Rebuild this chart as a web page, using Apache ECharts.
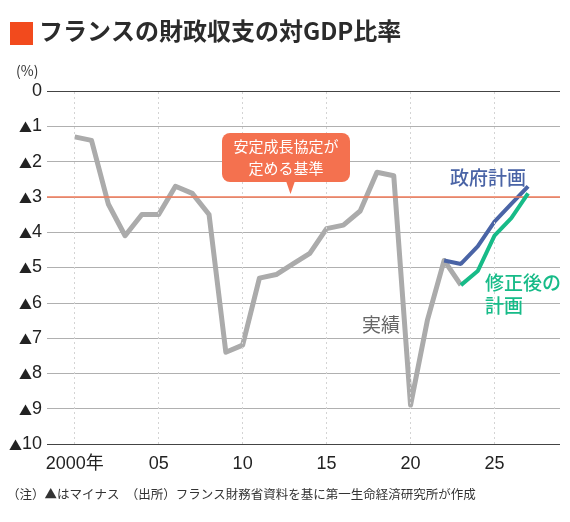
<!DOCTYPE html>
<html>
<head>
<meta charset="utf-8">
<script src="https://cdn.jsdelivr.net/npm/echarts@6/dist/echarts.min.js"></script>
<style>
  html, body { margin: 0; padding: 0; background: #fff; }
  #chart { width: 570px; height: 522px; }
</style>
</head>
<body>
<div id="chart"></div>
<script>
    // 実績 2000-2023
    var actualYears = [2000, 2001, 2002, 2003, 2004, 2005, 2006, 2007, 2008, 2009, 2010, 2011,
        2012, 2013, 2014, 2015, 2016, 2017, 2018, 2019, 2020, 2021, 2022, 2023];
    var actualValues = [-1.3, -1.4, -3.2, -4.1, -3.5, -3.5, -2.7, -2.9, -3.5, -7.4, -7.2, -5.3,
        -5.2, -4.9, -4.6, -3.9, -3.8, -3.4, -2.3, -2.4, -8.9, -6.5, -4.8, -5.5];
    // 政府計画
    var planYears = [2022, 2023, 2024, 2025, 2026, 2027];
    var planValues = [-4.8, -4.9, -4.4, -3.7, -3.2, -2.7];
    // 修正後の計画
    var revisedYears = [2023, 2024, 2025, 2026, 2027];
    var revisedValues = [-5.5, -5.1, -4.1, -3.6, -2.9];

    var xTicks = [2000, 2005, 2010, 2015, 2020, 2025];
    var xTickLabels = ['2000年', '05', '10', '15', '20', '25'];
    var sgpLimit = -3;

    var FONT = '"Noto Sans CJK JP", "Noto Sans", sans-serif';
    var NUM_FONT = '"Liberation Sans", "Noto Sans CJK JP", sans-serif';

    function pairs(xs, ys) {
        return xs.map(function (x, i) { return [x, ys[i]]; });
    }

    var gridColors = [];
    for (var i = 0; i <= 10; i++) {
        gridColors.push(i === 0 || i === 10 ? '#444' : '#b0b0b0');
    }

    var myChart = echarts.init(document.getElementById('chart'));
    var option = {
        animation: false,
        textStyle: { fontFamily: FONT },
        grid: { left: 47, right: 10, top: 91, bottom: 78 },
        xAxis: {
            type: 'value',
            min: 1998.35,
            max: 2028.9,
            axisLine: { show: false },
            axisTick: { show: false },
            splitLine: { show: false },
            axisLabel: {
                customValues: xTicks,
                color: '#222',
                fontSize: 18,
                margin: 11,
                fontFamily: NUM_FONT,
                formatter: function (v) {
                    var k = xTicks.indexOf(Math.round(v));
                    return k >= 0 ? xTickLabels[k] : '';
                }
            }
        },
        yAxis: {
            type: 'value',
            min: -10,
            max: 0,
            interval: 1,
            axisLine: { show: false },
            axisTick: { show: false },
            splitLine: { lineStyle: { color: gridColors, width: 1.2 } },
            axisLabel: {
                color: '#222',
                fontSize: 18,
                margin: 5,
                fontFamily: NUM_FONT,
                formatter: function (v) {
                    return v === 0 ? '0' : '{t|▲}' + (-v);
                },
                rich: {
                    t: { fontSize: 13, fontFamily: FONT, color: '#222', padding: [2, 0, 0, 0] }
                }
            }
        },
        graphic: [
            { type: 'rect', shape: { x: 10, y: 22, width: 23, height: 23 }, style: { fill: '#f24a1d' } },
            { type: 'text', left: 39, top: 19, style: { text: 'フランスの財政収支の対GDP比率', fill: '#2b2b2b',
                font: 'bold 24px ' + FONT } },
            { type: 'text', left: 16, top: 64, style: { text: '(%)', fill: '#333', font: '14px ' + FONT } },
            { type: 'rect', shape: { x: 222, y: 133, width: 128, height: 49, r: 8 }, style: { fill: '#f4714f' }, z: 10 },
            { type: 'polygon', shape: { points: [[286, 181], [295, 181], [290.5, 194]] }, style: { fill: '#f4714f' }, z: 10 },
            { type: 'text', x: 286, y: 146, style: { text: '安定成長協定が', fill: '#fff', font: '15px ' + FONT,
                textAlign: 'center', textVerticalAlign: 'middle' }, z: 11 },
            { type: 'text', x: 286, y: 168, style: { text: '定める基準', fill: '#fff', font: '15px ' + FONT,
                textAlign: 'center', textVerticalAlign: 'middle' }, z: 11 },
            { type: 'text', x: 450, y: 178, style: { text: '政府計画', fill: '#4a64a6', font: '500 19px ' + FONT,
                textVerticalAlign: 'middle' }, z: 11 },
            { type: 'text', x: 485, y: 283, style: { text: '修正後の', fill: '#17bb88', font: '500 19px ' + FONT,
                textVerticalAlign: 'middle' }, z: 11 },
            { type: 'text', x: 485, y: 306, style: { text: '計画', fill: '#17bb88', font: '500 19px ' + FONT,
                textVerticalAlign: 'middle' }, z: 11 },
            { type: 'text', x: 362, y: 325, style: { text: '実績', fill: '#666', font: '19px ' + FONT,
                textVerticalAlign: 'middle' }, z: 11 },
            { type: 'text', left: 7, top: 488, style: { text: '（注）▲はマイナス　（出所）フランス財務省資料を基に第一生命経済研究所が作成',
                fill: '#333', font: '12.5px ' + FONT } }
        ],
        series: [
            {
                // vertical dotted guides and SGP reference line
                type: 'line',
                data: [],
                silent: true,
                z: 1,
                markLine: {
                    symbol: 'none',
                    silent: true,
                    label: { show: false },
                    data: xTicks.map(function (x) {
                        return { xAxis: x, lineStyle: { color: '#d4d4d4', type: [2, 3], width: 1 } };
                    }).concat([{ yAxis: sgpLimit, lineStyle: { color: '#f27a58', type: 'solid', width: 1.5 } }])
                }
            },
            {
                name: '実績',
                type: 'line',
                data: pairs(actualYears, actualValues),
                symbol: 'none',
                z: 3,
                lineStyle: { color: '#ababab', width: 5, join: 'round' }
            },
            {
                name: '政府計画',
                type: 'line',
                data: pairs(planYears, planValues),
                symbol: 'none',
                z: 4,
                lineStyle: { color: '#4a64a6', width: 4 }
            },
            {
                name: '修正後の計画',
                type: 'line',
                data: pairs(revisedYears, revisedValues),
                symbol: 'none',
                z: 5,
                lineStyle: { color: '#17bb88', width: 4 }
            }
        ]
    };
    myChart.setOption(option);
</script>
</body>
</html>
